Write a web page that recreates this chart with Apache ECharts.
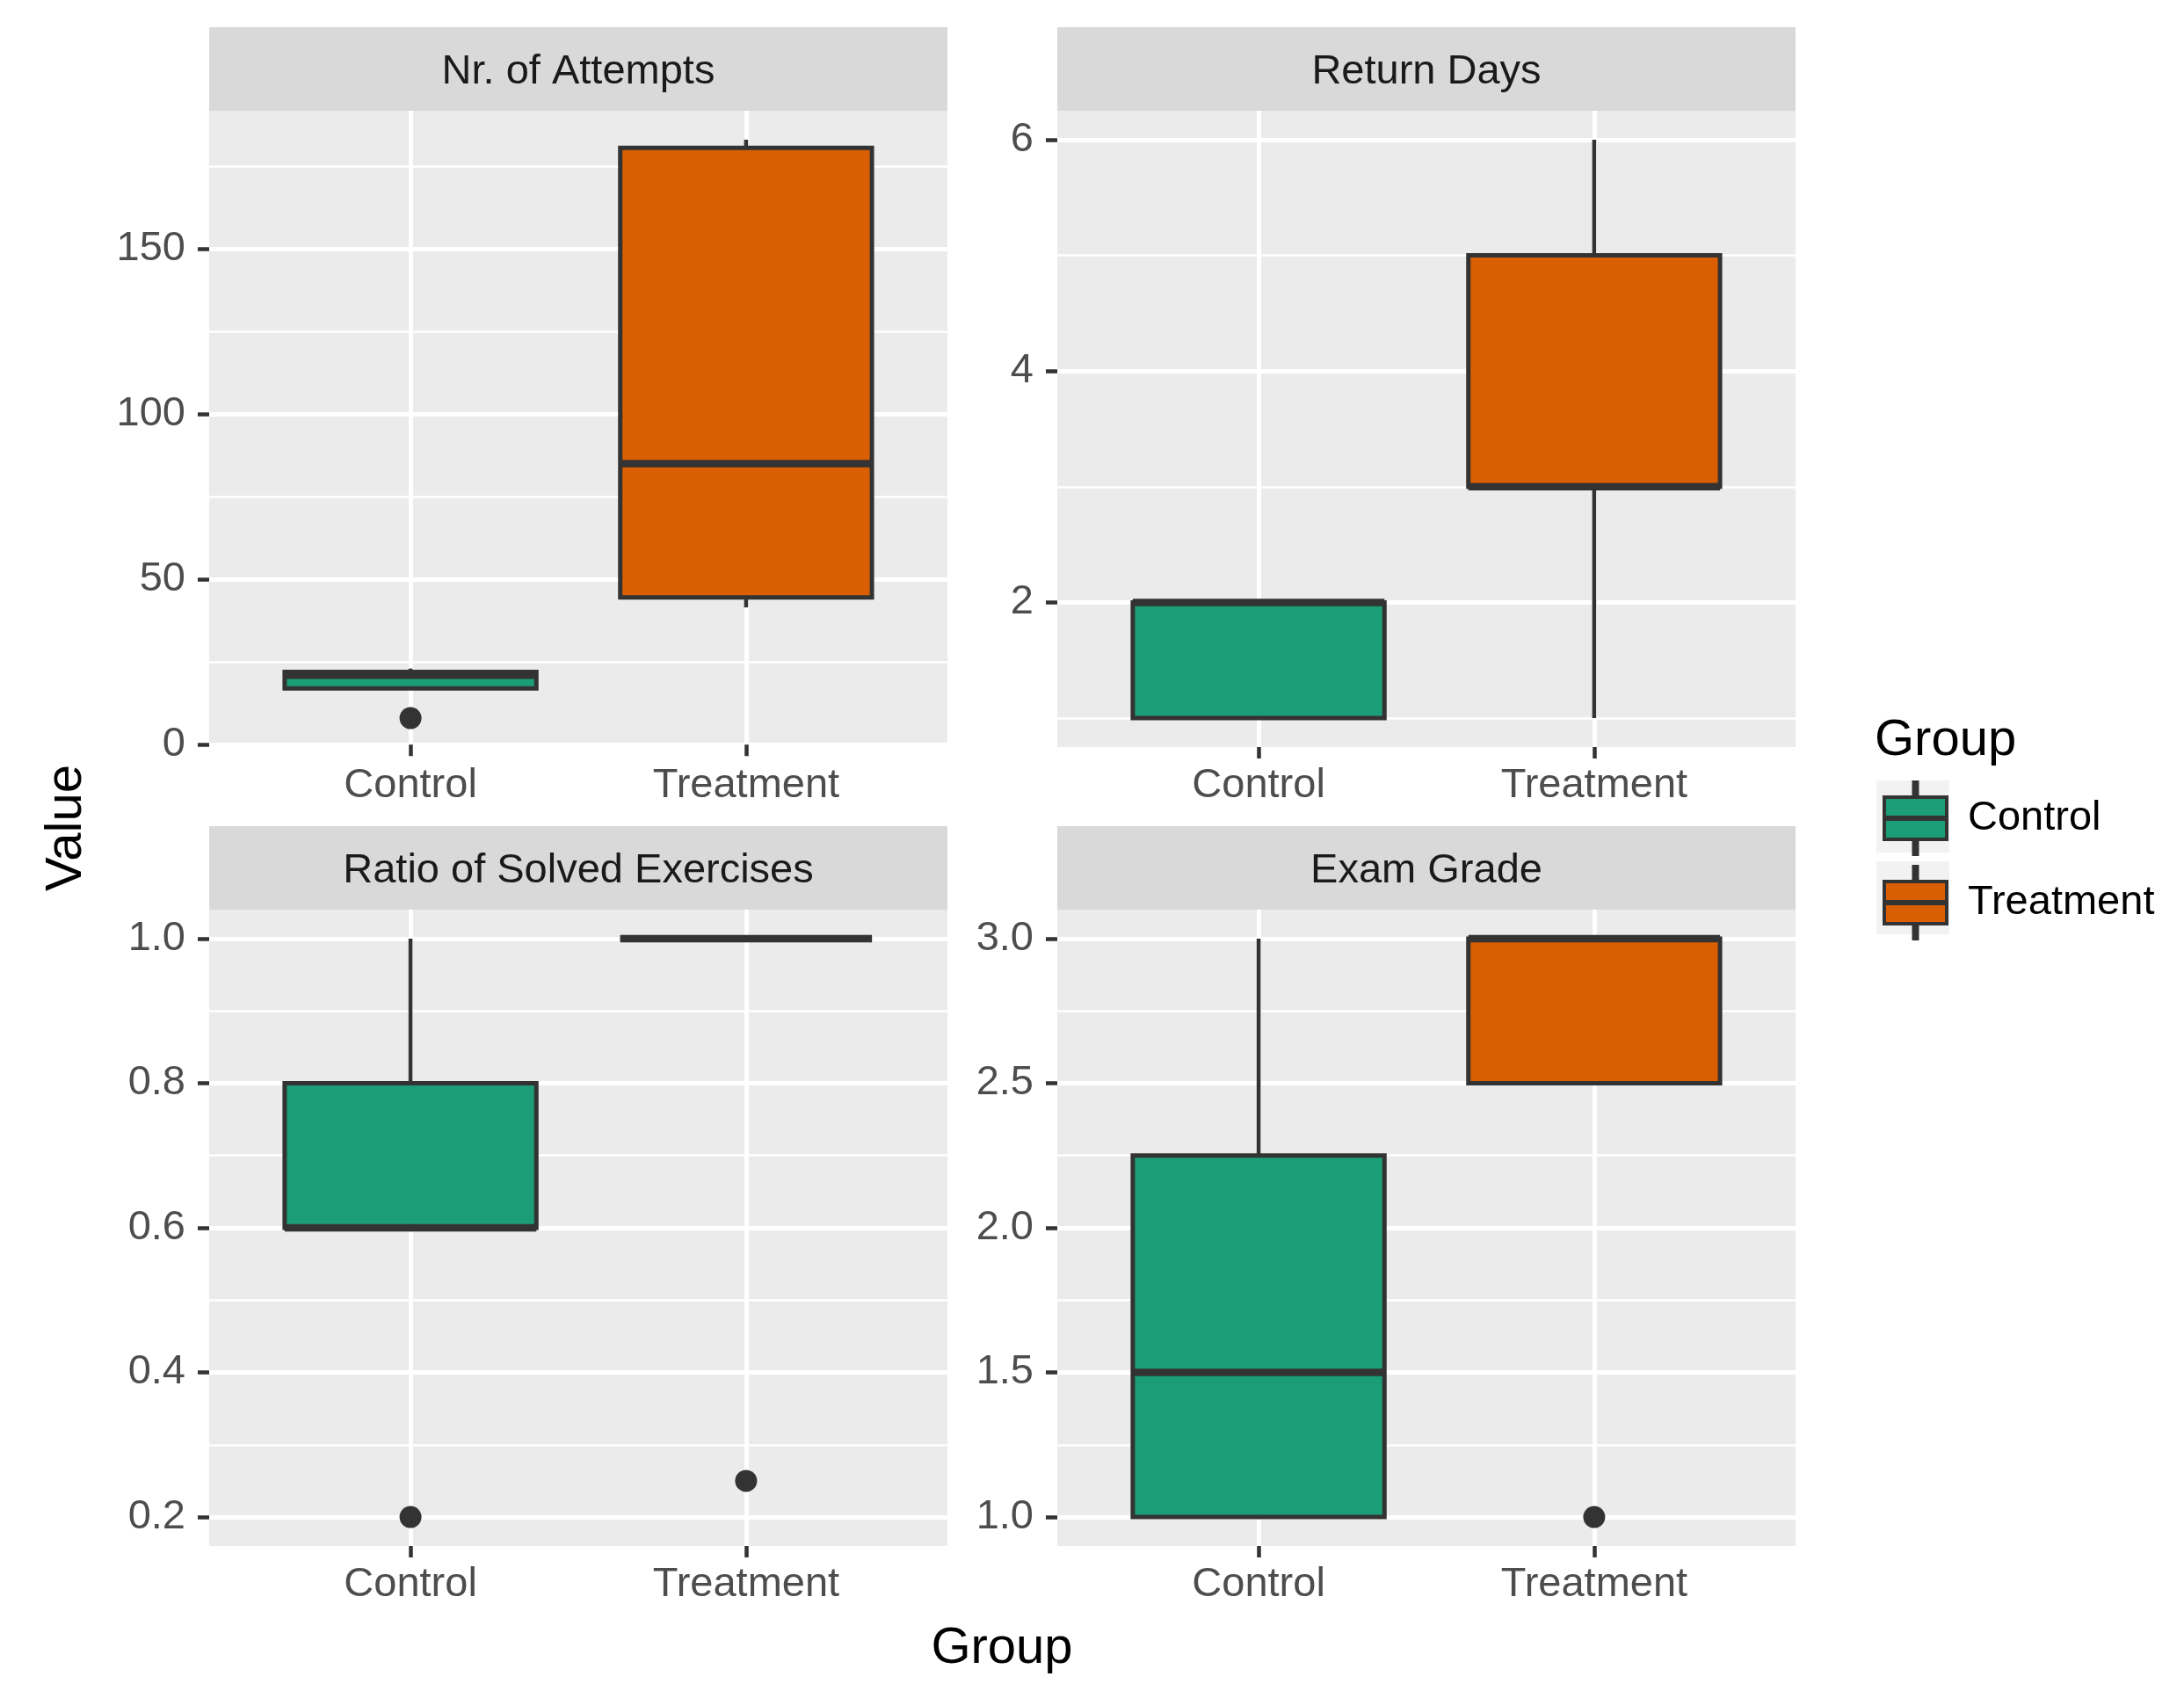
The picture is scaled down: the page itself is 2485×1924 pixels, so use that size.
<!DOCTYPE html>
<html>
<head>
<meta charset="utf-8">
<script src="https://cdn.jsdelivr.net/npm/echarts@6/dist/echarts.min.js"></script>
<style>
  html, body { margin: 0; padding: 0; background: #fff; }
  #chart { width: 2485px; height: 1924px; }
</style>
</head>
<body>
<div id="chart"></div>
<script>
const groups = ['Control', 'Treatment']
const groupColors = ['#1B9E77', '#D95F02']
const panelTitles = ['Nr. of Attempts', 'Return Days', 'Ratio of Solved Exercises', 'Exam Grade']

// box stats: [lower whisker, Q1, median, Q3, upper whisker]
const attemptsControl = [17, 17, 21, 22, 23]
const attemptsTreatment = [41.5, 44.5, 85, 180.5, 183]
const returnControl = [1, 1, 2, 2, 2]
const returnTreatment = [1, 3, 3, 5, 6]
const ratioControl = [0.6, 0.6, 0.6, 0.8, 1.0]
const ratioTreatment = [1.0, 1.0, 1.0, 1.0, 1.0]
const gradeControl = [1.0, 1.0, 1.5, 2.25, 3.0]
const gradeTreatment = [2.5, 2.5, 3.0, 3.0, 3.0]

// outliers: [group index, value]
const attemptsOutliers = [[0, 8]]
const returnOutliers = []
const ratioOutliers = [[0, 0.2], [1, 0.25]]
const gradeOutliers = [[1, 1.0]]

// tick labels (major) and minor grid breaks
const attemptsTicks = [0, 50, 100, 150]
const attemptsMinor = [25, 75, 125, 175]
const returnTicks = [2, 4, 6]
const returnMinor = [1, 3, 5]
const ratioTicks = [0.2, 0.4, 0.6, 0.8, 1.0]
const ratioMinor = [0.3, 0.5, 0.7, 0.9]
const gradeTicks = [1.0, 1.5, 2.0, 2.5, 3.0]
const gradeMinor = [1.25, 1.75, 2.25, 2.75]

const panels = [
    {title: panelTitles[0], boxes: [attemptsControl, attemptsTreatment], outliers: attemptsOutliers, ticks: attemptsTicks, minor: attemptsMinor, digits: 0},
    {title: panelTitles[1], boxes: [returnControl, returnTreatment], outliers: returnOutliers, ticks: returnTicks, minor: returnMinor, digits: 0},
    {title: panelTitles[2], boxes: [ratioControl, ratioTreatment], outliers: ratioOutliers, ticks: ratioTicks, minor: ratioMinor, digits: 1},
    {title: panelTitles[3], boxes: [gradeControl, gradeTreatment], outliers: gradeOutliers, ticks: gradeTicks, minor: gradeMinor, digits: 1}
]

const FONT = '"Liberation Sans", Arial, sans-serif'
const EDGE = '#333333'
const BOX_WIDTH = 0.75
const plotLeft = [238, 1203]
const plotTop = [126, 1035]
const plotW = 840
const plotH = 724
const stripH = 95

// ggplot style 5% expansion of the data range
const limits = (p) => {
    const vals = p.boxes.flat().concat(p.outliers.map(o => o[1]))
    const lo = Math.min(...vals)
    const hi = Math.max(...vals)
    const pad = (hi - lo) * 0.05
    return [lo - pad, hi + pad]
}

const renderBox = (params, api) => {
    const x = api.value(0)
    const lo = api.coord([x, api.value(1)])
    const q1 = api.coord([x, api.value(2)])
    const md = api.coord([x, api.value(3)])
    const q3 = api.coord([x, api.value(4)])
    const hi = api.coord([x, api.value(5)])
    const half = api.size([BOX_WIDTH, 0])[0] / 2
    const color = api.visual('color')
    return {
        type: 'group',
        children: [
            {type: 'line', shape: {x1: lo[0], y1: lo[1], x2: q1[0], y2: q1[1]}, style: {stroke: EDGE, lineWidth: 4.5}},
            {type: 'line', shape: {x1: q3[0], y1: q3[1], x2: hi[0], y2: hi[1]}, style: {stroke: EDGE, lineWidth: 4.5}},
            {type: 'rect', shape: {x: q1[0] - half, y: q3[1], width: half * 2, height: Math.max(q1[1] - q3[1], 0)},
                style: {fill: color, stroke: EDGE, lineWidth: 5}},
            {type: 'line', shape: {x1: md[0] - half, y1: md[1], x2: md[0] + half, y2: md[1]}, style: {stroke: EDGE, lineWidth: 8.5}}
        ]
    }
}

const grids = []
const xAxes = []
const yAxes = []
const minorAxes = []
const series = []
const graphics = []

panels.forEach((p, i) => {
    const left = plotLeft[i % 2]
    const top = plotTop[Math.floor(i / 2)]
    const [ymin, ymax] = limits(p)

    grids.push({left, top, width: plotW, height: plotH, show: true, backgroundColor: '#EBEBEB', borderWidth: 0})

    xAxes.push({
        type: 'value', gridIndex: i, min: 0.4, max: 2.6,
        axisLine: {show: false},
        axisTick: {show: true, customValues: [1, 2], length: 13, lineStyle: {color: EDGE, width: 4.5}},
        axisLabel: {customValues: [1, 2], formatter: v => groups[Math.round(v) - 1], margin: 21,
            fontFamily: FONT, fontSize: 47, color: '#4D4D4D'},
        splitLine: {show: true, lineStyle: {color: '#FFFFFF', width: 5}}
    })

    yAxes.push({
        type: 'value', gridIndex: i, min: ymin, max: ymax,
        axisLine: {show: false},
        axisTick: {show: true, customValues: p.ticks, length: 13, lineStyle: {color: EDGE, width: 4.5}},
        axisLabel: {customValues: p.ticks, formatter: v => v.toFixed(p.digits), margin: 27,
            fontFamily: FONT, fontSize: 47, color: '#4D4D4D'},
        splitLine: {show: true, lineStyle: {color: '#FFFFFF', width: 5}}
    })

    minorAxes.push({
        type: 'value', gridIndex: i, min: ymin, max: ymax, position: 'left',
        axisLine: {show: false},
        axisTick: {show: false, customValues: p.minor},
        axisLabel: {show: false, customValues: p.minor},
        splitLine: {show: true, lineStyle: {color: '#FFFFFF', width: 2.6}}
    })

    groups.forEach((g, gi) => {
        series.push({
            type: 'custom', name: g, xAxisIndex: i, yAxisIndex: i,
            renderItem: renderBox, clip: false, z: 3,
            itemStyle: {color: groupColors[gi]},
            encode: {x: 0, y: [1, 2, 3, 4, 5]},
            data: [[gi + 1].concat(p.boxes[gi])]
        })
    })

    series.push({
        type: 'scatter', name: 'outliers', xAxisIndex: i, yAxisIndex: i, z: 4,
        symbolSize: 25, itemStyle: {color: EDGE, opacity: 1},
        data: p.outliers.map(o => [o[0] + 1, o[1]])
    })

    // facet strip
    graphics.push({type: 'rect', left, top: top - stripH, shape: {width: plotW, height: stripH}, style: {fill: '#D9D9D9'}, z: 0})
    graphics.push({type: 'text', x: left + plotW / 2, y: top - stripH / 2 + 4,
        style: {text: p.title, font: '47px ' + FONT, fill: '#1A1A1A', textAlign: 'center', textVerticalAlign: 'middle'}, z: 1})
})

// legend key backgrounds and titles
graphics.push({type: 'rect', left: 2135, top: 888, shape: {width: 83, height: 82}, style: {fill: '#F2F2F2'}, z: 0})
graphics.push({type: 'rect', left: 2135, top: 980, shape: {width: 83, height: 83}, style: {fill: '#F2F2F2'}, z: 0})
graphics.push({type: 'text', x: 2133, y: 843,
    style: {text: 'Group', font: '58px ' + FONT, fill: '#000', textAlign: 'left', textVerticalAlign: 'middle'}, z: 1})
graphics.push({type: 'text', x: 1140, y: 1876,
    style: {text: 'Group', font: '58px ' + FONT, fill: '#000', textAlign: 'center', textVerticalAlign: 'middle'}, z: 1})
graphics.push({type: 'text', x: 76, y: 942, rotation: Math.PI / 2,
    style: {text: 'Value', font: '58px ' + FONT, fill: '#000', textAlign: 'center', textVerticalAlign: 'middle'}, z: 1})

const keyIcon = 'path://M33.5,0h4v17h-4z M0,17h71v23h-71z M0,42h71v23h-71z M33.5,65h4v17h-4z'

const chart = echarts.init(document.getElementById('chart'))
chart.setOption({
    animation: false,
    backgroundColor: '#FFFFFF',
    grid: grids,
    xAxis: xAxes,
    yAxis: yAxes.concat(minorAxes),
    legend: {
        data: groups, orient: 'vertical', left: 2142, top: 888, padding: 0,
        itemWidth: 71, itemHeight: 82, itemGap: 10, icon: keyIcon, z: 4,
        itemStyle: {borderColor: EDGE, borderWidth: 4},
        textStyle: {fontFamily: FONT, fontSize: 47, color: '#000', padding: [0, 0, 0, 19]}
    },
    graphic: graphics,
    series
})
</script>
</body>
</html>
